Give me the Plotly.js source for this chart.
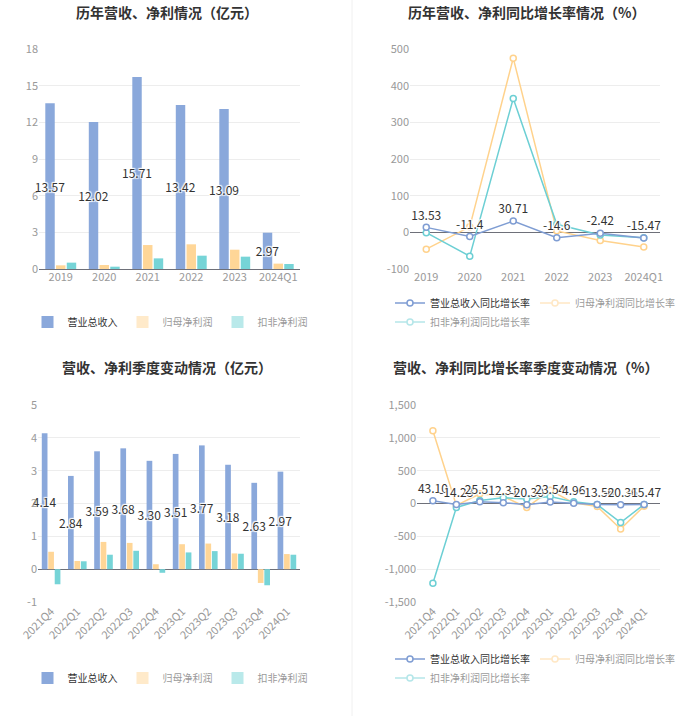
<!DOCTYPE html>
<html>
<head>
<meta charset="utf-8">
<script src="https://cdn.plot.ly/plotly-3.0.1.min.js"></script>
<style>
  html, body { margin: 0; padding: 0; background: #fff; }
  #chart { width: 700px; height: 716px; }
</style>
</head>
<body>
<div id="chart"></div>
<script>
// ---------- data ----------
const years = ['2019', '2020', '2021', '2022', '2023', '2024Q1'];
const revenue = [13.57, 12.02, 15.71, 13.42, 13.09, 2.97];
const netProfit = [0.30, 0.33, 1.96, 2.02, 1.58, 0.44];
const deductedProfit = [0.52, 0.19, 0.87, 1.09, 1.01, 0.41];

const revenueYoY = [13.53, -11.4, 30.71, -14.6, -2.42, -15.47];
const netProfitYoY = [-46, 15, 475, 4, -22, -40];
const deductedYoY = [-1, -65, 365, 22, -7, -15];

const quarters = ['2021Q4', '2022Q1', '2022Q2', '2022Q3', '2022Q4', '2023Q1', '2023Q2', '2023Q3', '2023Q4', '2024Q1'];
const qRevenue = [4.14, 2.84, 3.59, 3.68, 3.30, 3.51, 3.77, 3.18, 2.63, 2.97];
const qNetProfit = [0.53, 0.25, 0.83, 0.80, 0.15, 0.76, 0.78, 0.48, -0.42, 0.46];
const qDeducted = [-0.46, 0.24, 0.44, 0.56, -0.11, 0.51, 0.55, 0.47, -0.49, 0.44];

const qRevenueYoY = [43.10, -14.23, 25.51, 12.31, -20.30, 23.54, 4.96, -13.56, -20.36, -15.47];
const qNetProfitYoY = [1107, -30, 148, 107, -60, 200, 10, -45, -388, -40];
const qDeductedYoY = [-1214, -60, 45, 87, 70, 107, 25, -16, -290, -14];

const names = ['营业总收入', '归母净利润', '扣非净利润'];
const rateNames = ['营业总收入同比增长率', '归母净利润同比增长率', '扣非净利润同比增长率'];
const titles = ['历年营收、净利情况（亿元）', '历年营收、净利同比增长率情况（%）',
                '营收、净利季度变动情况（亿元）', '营收、净利同比增长率季度变动情况（%）'];

const y1Ticks = [0, 3, 6, 9, 12, 15, 18];
const y1Text = ['0', '3', '6', '9', '12', '15', '18'];
const y2Ticks = [-100, 0, 100, 200, 300, 400, 500];
const y2Text = ['-100', '0', '100', '200', '300', '400', '500'];
const y3Ticks = [-1, 0, 1, 2, 3, 4, 5];
const y3Text = ['-1', '0', '1', '2', '3', '4', '5'];
const y4Ticks = [-1500, -1000, -500, 0, 500, 1000, 1500];
const y4Text = ['-1,500', '-1,000', '-500', '0', '500', '1,000', '1,500'];

// ---------- style ----------
const FONT = '"Noto Sans CJK SC", "Noto Sans", sans-serif';
const C_BLUE = '#8AA8DB';
const C_ORANGE = '#FFD697';
const C_CYAN = '#76D4D7';
const L_BLUE = '#7F9DD3';
const L_ORANGE = '#FFD28C';
const L_CYAN = '#6CCFD4';
const GRID = '#EDEDED';
const AXIS = '#6E7079';
const TICK = '#999999';
const HALO = '1px 1px 1px #fff, -1px -1px 1px #fff, 1px -1px 1px #fff, -1px 1px 1px #fff, 0 0 2px #fff';

const W = 700, H = 716;
const px = v => v / W;
const py = v => 1 - v / H;

function barTraces(cats, a, b, c, xa, ya, leg) {
  const base = {type: 'bar', xaxis: xa, yaxis: ya, hoverinfo: 'skip', cliponaxis: false};
  return [
    Object.assign({}, base, {
      x: cats, y: a, name: names[0], marker: {color: C_BLUE}, legend: leg,
      text: a.map(v => v.toFixed(2)), textposition: 'inside', insidetextanchor: 'middle',
      textangle: 0, constraintext: 'none',
      insidetextfont: {family: FONT, size: 12, color: '#333', shadow: HALO}
    }),
    Object.assign({}, base, {x: cats, y: b, name: names[1], marker: {color: C_ORANGE}, showlegend: false}),
    Object.assign({}, base, {x: cats, y: c, name: names[2], marker: {color: C_CYAN}, showlegend: false}),
    Object.assign({}, base, {x: cats, y: b, name: names[1], marker: {color: C_ORANGE}, legend: leg, visible: 'legendonly'}),
    Object.assign({}, base, {x: cats, y: c, name: names[2], marker: {color: C_CYAN}, legend: leg, visible: 'legendonly'})
  ];
}

function lineTraces(cats, a, b, c, xa, ya, legA, legB, labels) {
  const mk = col => ({symbol: 'circle', size: 6, color: '#fff', line: {color: col, width: 1.5}});
  const base = {type: 'scatter', xaxis: xa, yaxis: ya, hoverinfo: 'skip', cliponaxis: false};
  return [
    Object.assign({}, base, {x: cats, y: b, name: rateNames[1], mode: 'lines+markers',
      line: {color: L_ORANGE, width: 1.5}, marker: mk(L_ORANGE), showlegend: false}),
    Object.assign({}, base, {x: cats, y: c, name: rateNames[2], mode: 'lines+markers',
      line: {color: L_CYAN, width: 1.5}, marker: mk(L_CYAN), showlegend: false}),
    Object.assign({}, base, {x: cats, y: a, name: rateNames[0], mode: 'lines+markers+text',
      line: {color: L_BLUE, width: 1.5}, marker: mk(L_BLUE), legend: legA,
      text: labels, textposition: 'top center',
      textfont: {family: FONT, size: 12, color: '#333', shadow: HALO}}),
    Object.assign({}, base, {x: cats, y: b, name: rateNames[1], mode: 'lines+markers',
      line: {color: L_ORANGE, width: 1.5}, marker: mk(L_ORANGE), legend: legA, visible: 'legendonly'}),
    Object.assign({}, base, {x: cats, y: c, name: rateNames[2], mode: 'lines+markers',
      line: {color: L_CYAN, width: 1.5}, marker: mk(L_CYAN), legend: legB, visible: 'legendonly'})
  ];
}

const data = [].concat(
  barTraces(years, revenue, netProfit, deductedProfit, 'x', 'y', 'legend'),
  lineTraces(years, revenueYoY, netProfitYoY, deductedYoY, 'x2', 'y2', 'legend2', 'legend3',
             revenueYoY.map(v => String(v))),
  barTraces(quarters, qRevenue, qNetProfit, qDeducted, 'x3', 'y3', 'legend4'),
  lineTraces(quarters, qRevenueYoY, qNetProfitYoY, qDeductedYoY, 'x4', 'y4', 'legend5', 'legend6',
             qRevenueYoY.map(v => v.toFixed(2)))
);

function xAxis(dom, anchor, angle) {
  return {
    domain: dom, anchor: anchor, type: 'category', showgrid: false, zeroline: false,
    showline: false, ticks: '', tickangle: angle, fixedrange: true, automargin: false,
    tickfont: {family: FONT, size: 11, color: TICK}
  };
}
function yAxis(dom, anchor, range, vals, text) {
  return {
    domain: dom, anchor: anchor, range: range, tickvals: vals, ticktext: text,
    showgrid: true, gridcolor: GRID, gridwidth: 1,
    zeroline: true, zerolinecolor: AXIS, zerolinewidth: 1,
    showline: false, ticks: '', fixedrange: true, automargin: false,
    tickfont: {family: FONT, size: 11, color: TICK}
  };
}

const topDom = [py(269), py(49)];
const botDom = [py(602), py(405)];

function legendDef(x, xanchor, y) {
  return {
    orientation: 'h', x: x, xanchor: xanchor, y: y, yanchor: 'middle',
    font: {family: FONT, size: 10, color: '#333'}, bgcolor: 'rgba(0,0,0,0)',
    itemclick: false, itemdoubleclick: false, tracegroupgap: 0
  };
}

const titleAnn = (t, x, y) => ({
  text: t, xref: 'paper', yref: 'paper', x: px(x), y: py(y), xanchor: 'center', yanchor: 'middle',
  showarrow: false, font: {family: FONT, size: 14, color: '#333', weight: 'bold'}
});

const layout = {
  width: W, height: H,
  margin: {l: 0, r: 0, t: 0, b: 0, autoexpand: false},
  paper_bgcolor: '#fff', plot_bgcolor: '#fff',
  font: {family: FONT},
  showlegend: true,
  barmode: 'group', bargap: 0.26, bargroupgap: 0.12,
  xaxis: xAxis([px(39), px(300)], 'y', 0),
  yaxis: yAxis(topDom, 'x', [0, 18], y1Ticks, y1Text),
  xaxis2: xAxis([px(410), px(660)], 'y2', 0),
  yaxis2: yAxis(topDom, 'x2', [-100, 500], y2Ticks, y2Text),
  xaxis3: xAxis([px(38), px(300)], 'y3', -45),
  yaxis3: yAxis(botDom, 'x3', [-1, 5], y3Ticks, y3Text),
  xaxis4: xAxis([px(417), px(660)], 'y4', -45),
  yaxis4: yAxis(botDom, 'x4', [-1500, 1500], y4Ticks, y4Text),
  legend: legendDef(px(170), 'center', py(322)),
  legend2: legendDef(px(390), 'left', py(303)),
  legend3: legendDef(px(390), 'left', py(322)),
  legend4: legendDef(px(170), 'center', py(678)),
  legend5: legendDef(px(390), 'left', py(659)),
  legend6: legendDef(px(390), 'left', py(678)),
  annotations: [
    titleAnn(titles[0], 167, 12),
    titleAnn(titles[1], 526, 12),
    titleAnn(titles[2], 167, 367),
    titleAnn(titles[3], 525, 367)
  ],
  shapes: [
    {type: 'line', xref: 'paper', yref: 'paper', x0: px(352), x1: px(352), y0: 0, y1: 1,
     line: {color: '#F0F0F0', width: 1}}
  ]
};

Plotly.newPlot('chart', data, layout, {displayModeBar: false, staticPlot: true});
</script>
</body>
</html>
